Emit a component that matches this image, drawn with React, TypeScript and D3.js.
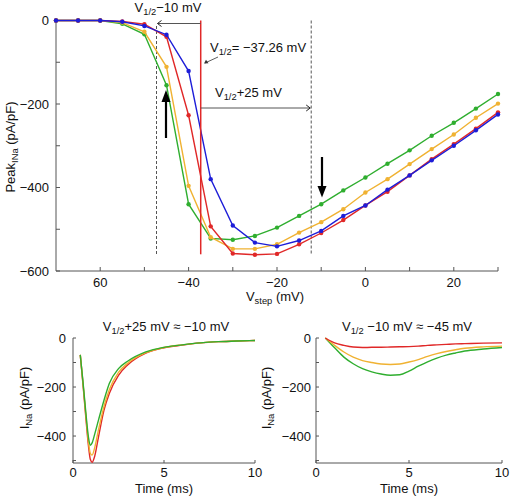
import React from "react";
import * as d3 from "d3";

// ---------- Data ----------
const VSTEP = [-70, -65, -60, -55, -50, -45, -40, -35, -30, -25, -20, -15, -10, -5, 0, 5, 10, 15, 20, 25, 30];
const PEAK_GREEN = [0, 0, 0, -8, -33, -155, -440, -522, -525, -516, -496, -468, -440, -407, -376, -343, -311, -276, -245, -211, -176];
const PEAK_ORANGE = [0, 0, 0, -5, -27, -111, -396, -519, -547, -547, -536, -508, -483, -452, -412, -380, -344, -308, -273, -233, -199];
const PEAK_RED = [0, 0, 0, -2, -9, -39, -227, -493, -558, -561, -559, -536, -509, -478, -443, -410, -371, -332, -296, -259, -220];
const PEAK_BLUE = [0, 0, 0, -3, -13, -34, -121, -380, -491, -532, -541, -527, -504, -468, -443, -405, -371, -335, -300, -263, -225];

const V_HALF = -37.26;
const V_MINUS10 = -47.26;
const V_PLUS25 = -12.26;

const X_TICKS = [-60, -50, -40, -30, -20, -10, 0, 10, 20, 30];
const X_LABELS = [
  { v: -60, t: "60" },
  { v: -40, t: "\u221240" },
  { v: -20, t: "\u221220" },
  { v: 0, t: "0" },
  { v: 20, t: "20" },
];
const Y_TICKS = [0, -100, -200, -300, -400, -500, -600];
const Y_LABELS = [0, -200, -400, -600];

// Left trace: V1/2+25 mV
const T_LEFT = [0.4, 0.55, 0.7, 0.85, 0.95, 1.05, 1.2, 1.4, 1.7, 2.0, 2.5, 3.0, 4.0, 5.0, 6.0, 7.0, 8.0, 9.0, 10.0];
const L_GREEN = [-69, -180, -300, -405, -438, -428, -390, -335, -255, -185, -125, -95, -57, -38, -28, -20, -15, -12, -10];
const L_ORANGE = [-69, -185, -310, -425, -470, -478, -445, -375, -280, -210, -140, -103, -60, -39, -28, -20, -15, -12, -10];
const L_RED = [-69, -190, -320, -440, -495, -507, -480, -404, -295, -225, -152, -110, -62, -40, -29, -20, -15, -12, -10];

// Right trace: V1/2-10 mV
const T_RIGHT = [0.5, 1.0, 1.5, 2.0, 2.5, 3.0, 3.5, 4.0, 4.5, 5.0, 5.5, 6.0, 6.5, 7.0, 7.5, 8.0, 9.0, 10.0];
const R_RED = [0, -20, -30, -37, -39, -38, -38, -37, -36, -35, -33, -30, -28, -26, -24, -23, -21, -20];
const R_ORANGE = [0, -30, -57, -78, -92, -100, -106, -108, -106, -98, -88, -75, -64, -55, -48, -42, -36, -33];
const R_GREEN = [0, -40, -78, -105, -125, -138, -147, -152, -150, -135, -115, -97, -82, -70, -61, -53, -45, -39];

const T_TICKS = [0, 5, 10];
const I_TICKS = [0, -100, -200, -300, -400, -500];
const I_LABELS = [0, -200, -400];

// ---------- Styles ----------
const FONT = "'Liberation Sans', Arial, Helvetica, sans-serif";
const AXIS = "#555";
const C_BLUE = "#1d1dd8";
const C_RED = "#e02828";
const C_ORANGE = "#f0b232";
const C_GREEN = "#2fae2f";

const fmt = (v: number) => (v < 0 ? "\u2212" + Math.abs(v) : String(v));

function Sub({ main, sub, rest, size = 13 }: { main: string; sub: string; rest: string; size?: number }) {
  return (
    <>
      <tspan>{main}</tspan>
      <tspan fontSize={size * 0.72} dy={3}>{sub}</tspan>
      <tspan dy={-3}>{rest}</tspan>
    </>
  );
}

function TopChart() {
  const x = d3.scaleLinear().domain([-70, 30]).range([56, 498]);
  const y = d3.scaleLinear().domain([-600, 0]).range([271, 20.5]);
  const line = d3
    .line<number>()
    .x((_, i) => x(VSTEP[i]))
    .y((d) => y(d));
  const series = [
    { d: PEAK_GREEN, c: C_GREEN },
    { d: PEAK_ORANGE, c: C_ORANGE },
    { d: PEAK_RED, c: C_RED },
    { d: PEAK_BLUE, c: C_BLUE },
  ];
  const yTop = y(0);
  const yLineBottom = y(-560);
  return (
    <g>
      {/* axes */}
      <line x1={x(-70)} x2={x(30)} y1={y(-600)} y2={y(-600)} stroke={AXIS} strokeWidth={1} />
      <line x1={x(-70)} x2={x(-70)} y1={y(0)} y2={y(-600)} stroke={AXIS} strokeWidth={1} />
      {X_TICKS.map((v) => (
        <line key={v} x1={x(v)} x2={x(v)} y1={y(-600)} y2={y(-600) - 4} stroke={AXIS} />
      ))}
      {Y_TICKS.map((v) => (
        <line key={v} x1={x(-70)} x2={x(-70) + 4} y1={y(v)} y2={y(v)} stroke={AXIS} />
      ))}
      {X_LABELS.map((l) => (
        <text key={l.v} x={x(l.v)} y={287} textAnchor="middle" fontSize={13} fontFamily={FONT} fill="#111">
          {l.t}
        </text>
      ))}
      {Y_LABELS.map((v) => (
        <text key={v} x={49} y={y(v)} dy="0.35em" textAnchor="end" fontSize={13} fontFamily={FONT} fill="#111">
          {fmt(v)}
        </text>
      ))}
      <text x={275} y={301} textAnchor="middle" fontSize={13} fontFamily={FONT} fill="#111">
        <Sub main="V" sub="step" rest=" (mV)" />
      </text>
      <text transform="translate(15,147) rotate(-90)" textAnchor="middle" fontSize={13} fontFamily={FONT} fill="#111">
        <Sub main="Peak" sub="INa" rest=" (pA/pF)" />
      </text>

      {/* reference lines */}
      <line x1={x(V_MINUS10)} x2={x(V_MINUS10)} y1={26} y2={yLineBottom} stroke={AXIS} strokeDasharray="3,2" />
      <line x1={x(V_PLUS25)} x2={x(V_PLUS25)} y1={yTop} y2={yLineBottom} stroke={AXIS} strokeDasharray="3,2" />

      {/* series */}
      {series.map((s) => (
        <g key={s.c}>
          <path d={line(s.d) || ""} fill="none" stroke={s.c} strokeWidth={1.4} />
          {s.d.map((v, i) => (
            <circle key={i} cx={x(VSTEP[i])} cy={y(v)} r={2.2} fill={s.c} />
          ))}
        </g>
      ))}

      <line x1={x(V_HALF)} x2={x(V_HALF)} y1={yTop} y2={yLineBottom} stroke={C_RED} strokeWidth={1.5} />

      {/* annotations */}
      <text x={168} y={12} textAnchor="middle" fontSize={13} fontFamily={FONT} fill="#111">
        <Sub main="V" sub="1/2" rest={"\u221210 mV"} />
      </text>
      <line x1={x(V_HALF)} x2={x(V_MINUS10) + 1} y1={23.5} y2={23.5} stroke={AXIS} strokeWidth={1} />
      <path d={`M${x(V_MINUS10) + 5},20.5 L${x(V_MINUS10) + 1},23.5 L${x(V_MINUS10) + 5},26.5`} fill="none" stroke="#222" strokeWidth={1} />

      <text x={210} y={52} fontSize={13} fontFamily={FONT} fill="#111">
        <Sub main="V" sub="1/2" rest={"= \u221237.26 mV"} />
      </text>
      <line x1={218} y1={57} x2={205} y2={63} stroke="#333" strokeWidth={0.8} />
      <path d="M206,59.8 L204,63.5 L208.5,63.2 Z" fill="#333" />

      <text x={215} y={97} fontSize={13} fontFamily={FONT} fill="#111">
        <Sub main="V" sub="1/2" rest="+25 mV" />
      </text>
      <line x1={x(V_HALF)} x2={x(V_PLUS25) - 1} y1={108} y2={108} stroke={AXIS} strokeWidth={1} />
      <path d={`M${x(V_PLUS25) - 5},105 L${x(V_PLUS25) - 1},108 L${x(V_PLUS25) - 5},111`} fill="none" stroke="#222" strokeWidth={1} />

      {/* thick black arrows */}
      <line x1={166} x2={166} y1={138} y2={100} stroke="#000" strokeWidth={2.2} />
      <path d="M161.5,102 L166,90 L170.5,102 Z" fill="#000" />
      <line x1={322} x2={322} y1={157} y2={188} stroke="#000" strokeWidth={2.2} />
      <path d="M317.5,186 L322,197.5 L326.5,186 Z" fill="#000" />
    </g>
  );
}

function TraceChart({
  x0,
  x1,
  t,
  series,
  title,
  titleX,
  ylabX,
  tickLabX,
}: {
  x0: number;
  x1: number;
  t: number[];
  series: { d: number[]; c: string }[];
  title: React.ReactNode;
  titleX: number;
  ylabX: number;
  tickLabX: number;
}) {
  const x = d3.scaleLinear().domain([0, 10]).range([x0, x1]);
  const y = d3.scaleLinear().domain([-510, 0]).range([463, 338]);
  const line = d3
    .line<number>()
    .x((_, i) => x(t[i]))
    .y((d) => y(d))
    .curve(d3.curveMonotoneX);
  return (
    <g>
      <line x1={x(0)} x2={x(10)} y1={y(-510)} y2={y(-510)} stroke={AXIS} />
      <line x1={x(0)} x2={x(0)} y1={y(0)} y2={y(-510)} stroke={AXIS} />
      {T_TICKS.map((v) => (
        <line key={v} x1={x(v)} x2={x(v)} y1={y(-510)} y2={y(-510) - 3} stroke={AXIS} />
      ))}
      {I_TICKS.map((v) => (
        <line key={v} x1={x(0)} x2={x(0) + 3} y1={y(v)} y2={y(v)} stroke={AXIS} />
      ))}
      {T_TICKS.map((v) => (
        <text key={v} x={x(v)} y={477} textAnchor="middle" fontSize={13} fontFamily={FONT} fill="#111">
          {v}
        </text>
      ))}
      {I_LABELS.map((v) => (
        <text key={v} x={tickLabX} y={y(v)} dy="0.35em" textAnchor="end" fontSize={13} fontFamily={FONT} fill="#111">
          {fmt(v)}
        </text>
      ))}
      <text x={(x0 + x1) / 2} y={493} textAnchor="middle" fontSize={13} fontFamily={FONT} fill="#111">
        Time (ms)
      </text>
      <text transform={`translate(${ylabX},398) rotate(-90)`} textAnchor="middle" fontSize={13} fontFamily={FONT} fill="#111">
        <Sub main="I" sub="Na" rest=" (pA/pF)" />
      </text>
      <text x={titleX} y={331} textAnchor="middle" fontSize={13} fontFamily={FONT} fill="#111">
        {title}
      </text>
      {series.map((s) => (
        <path key={s.c} d={line(s.d) || ""} fill="none" stroke={s.c} strokeWidth={1.4} />
      ))}
    </g>
  );
}

export default function App() {
  return (
    <svg width={510} height={498} style={{ position: "absolute", left: 0, top: 0, background: "#fff" }}>
      <rect width={510} height={498} fill="#fff" />
      <TopChart />
      <TraceChart
        x0={73}
        x1={255}
        t={T_LEFT}
        series={[
          { d: L_RED, c: C_RED },
          { d: L_ORANGE, c: C_ORANGE },
          { d: L_GREEN, c: C_GREEN },
        ]}
        title={<Sub main="V" sub="1/2" rest={"+25 mV \u2248 \u221210 mV"} />}
        titleX={166}
        ylabX={29}
        tickLabX={66}
      />
      <TraceChart
        x0={316}
        x1={502}
        t={T_RIGHT}
        series={[
          { d: R_GREEN, c: C_GREEN },
          { d: R_ORANGE, c: C_ORANGE },
          { d: R_RED, c: C_RED },
        ]}
        title={<Sub main="V" sub="1/2" rest={" \u221210 mV \u2248 \u221245 mV"} />}
        titleX={407}
        ylabX={271}
        tickLabX={311}
      />
    </svg>
  );
}
